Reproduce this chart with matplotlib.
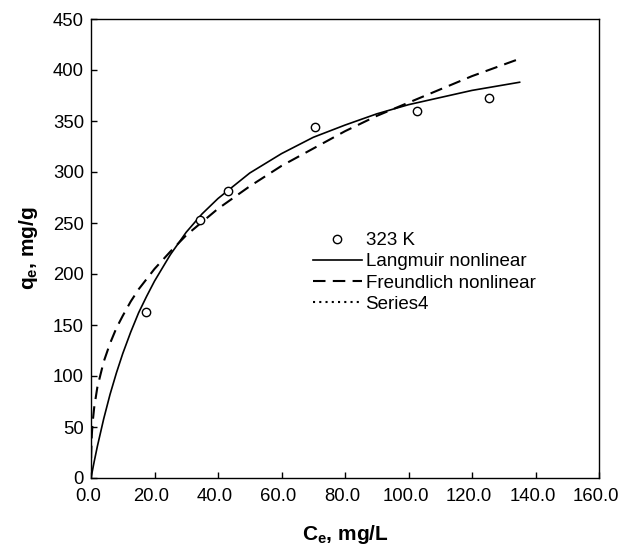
import matplotlib.pyplot as plt
import matplotlib.transforms as mtransforms
import numpy as np

plt.rcParams['font.family'] = 'Liberation Sans'
plt.rcParams['mathtext.fontset'] = 'custom'
plt.rcParams['mathtext.rm'] = 'Liberation Sans'
plt.rcParams['mathtext.bf'] = 'Liberation Sans:bold'

# measured data, 323 K
ce = [17.2, 34.2, 43.3, 70.7, 102.7, 125.4]
qe = [162.5, 252.5, 281.6, 344.3, 360.0, 372.3]

# fitted curves
lang_x = [0, 1, 2, 4, 6, 8, 10, 12.5, 15, 17.5, 20, 25, 30, 35, 40, 50, 60, 70, 80, 90, 100, 110, 120, 135]
lang_q = [0, 16, 31, 58, 82, 103, 122, 143, 162, 178, 193, 219, 241, 259, 274, 299, 318, 334, 346, 357, 366, 373, 380, 388]

freu_x = [0, 0.05, 0.25, 0.5, 1, 2, 4, 6, 8, 10, 12.5, 15, 17.5, 20, 25, 30, 35, 40, 50, 60, 70, 80, 90, 100, 110, 120, 135]
freu_q = [0, 23, 42, 54, 69, 89, 114, 132, 147, 159, 173, 185, 195, 205, 222, 238, 251, 264, 286, 306, 323, 340, 355, 368, 381, 394, 411]

fig = plt.figure(figsize=(6.2, 5.47), dpi=100)
ax = fig.add_axes([91/620, 1-478/547, 508/620, 459/547])

ax.plot(ce, qe, 'o', mfc='white', mec='black', ms=6, mew=1, label='323 K', zorder=3)
ax.plot(lang_x, lang_q, '-', color='black', lw=1.2, label='Langmuir nonlinear')
ax.plot(freu_x, freu_q, color='black', lw=1.5, ls=(0, (6, 3.5)), label='Freundlich nonlinear')
ax.plot([], [], color='black', lw=1.5, ls=(0, (1, 2)), label='Series4')

ax.set_xlim(0, 160)
ax.set_ylim(0, 450)
ax.set_xticks(np.arange(0, 161, 20))
ax.set_xticklabels(['%.1f' % v for v in np.arange(0, 161, 20)])
ax.set_yticks(np.arange(0, 451, 50))
ax.tick_params(direction='in', length=4, width=1, labelsize=13.3, pad=7)
ax.tick_params(axis='y', pad=5)
for s in ax.spines.values():
    s.set_linewidth(1)

# x tick labels sit a little left of their ticks in the original
shift = mtransforms.ScaledTranslation(-3/100, 0, fig.dpi_scale_trans)
for lbl in ax.get_xticklabels():
    lbl.set_transform(lbl.get_transform() + shift)

ax.set_xlabel(r'$\mathbf{C_e}$, mg/L', fontsize=15, fontweight='bold', labelpad=13)
ax.set_ylabel(r'$\mathbf{q_e}$, mg/g', fontsize=15, fontweight='bold', labelpad=9)

ax.legend(loc='upper left', bbox_to_anchor=(313/620, 1-232/547), bbox_transform=fig.transFigure,
          frameon=False, fontsize=13.5, handlelength=2.6, handletextpad=0.2,
          labelspacing=0.22, borderpad=0, borderaxespad=0)

plt.savefig('out.png', dpi=100)
